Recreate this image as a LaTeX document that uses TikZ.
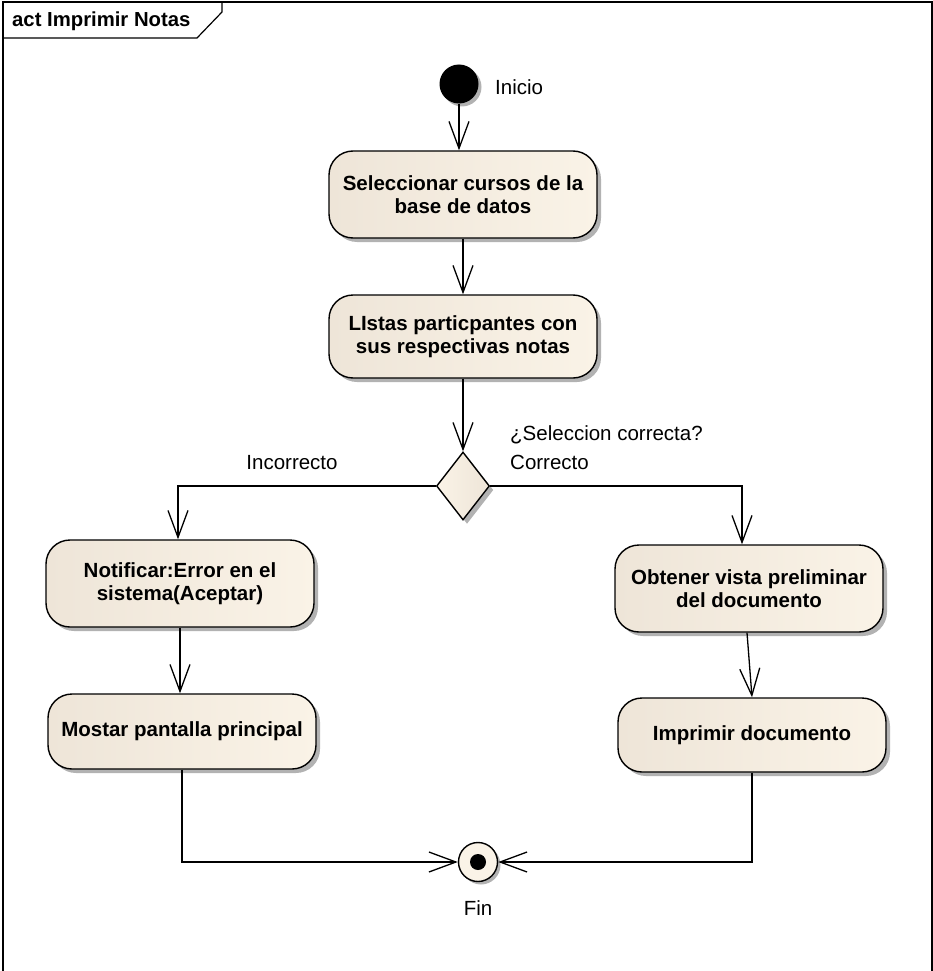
\documentclass[tikz,border=0pt]{standalone}
\usepackage{fontspec}
\setmainfont{Liberation Sans}
\usetikzlibrary{
	arrows.meta,
	shapes.geometric,
	shadows
}
\definecolor{BoxLeft}{RGB}{238,229,216}
\definecolor{BoxRight}{RGB}{250,243,231}
\definecolor{ShadowGray}{RGB}{178,178,178}

\tikzset{
	act/.style={draw, line width=1.4pt, rounded corners=24pt,
		left color=BoxLeft, right color=BoxRight,
		minimum width=268pt, inner sep=0pt, align=center,
		font=\fontsize{20.5}{23.5}\selectfont\bfseries,
		drop shadow={shadow xshift=4pt, shadow yshift=-4pt, fill=ShadowGray, opacity=1}},
	flow/.style={line width=1.3pt, -{Straight Barb[length=27pt, width=20pt, line width=1.3pt]}},
	lbl/.style={font=\fontsize{20.5}{24}\selectfont, inner sep=0pt}
}

\begin{document}
\begin{tikzpicture}[x=1pt, y=-1pt]
		\useasboundingbox (0,0) rectangle (933,971);
		% frame and tab
		\draw[line width=1.2pt] (3,980) -- (3,2) -- (932,2) -- (932,980);
		\draw[line width=1.2pt] (3,38) -- (197,38) -- (222,12) -- (222,2);
		\node[anchor=west, inner sep=0pt, font=\fontsize{20.3}{24}\selectfont\bfseries] (title) at (12,21) {act Imprimir Notas};
		% start and end
		\node[circle, fill=black, minimum size=39pt, inner sep=0pt,
			drop shadow={shadow xshift=3pt, shadow yshift=-3pt, fill=ShadowGray, opacity=1}] (start) at (459,84) {};
		\node[lbl, anchor=west] (inicio) at (495,87) {Inicio};
		\node[circle, draw, line width=1.4pt, fill=BoxRight, minimum size=39pt, inner sep=0pt,
			drop shadow={shadow xshift=3pt, shadow yshift=-3pt, fill=ShadowGray, opacity=1}] (fin) at (478,862) {};
		\fill (fin.center) circle (8pt);
		\node[lbl] (finlbl) at (478,908) {Fin};
		% actions
		\node[act, minimum height=87pt] (sel) at (463,194.5) {Seleccionar cursos de la\\base de datos};
		\node[act, minimum height=83pt] (list) at (463,336.5) {LIstas particpantes con\\sus respectivas notas};
		\node[diamond, draw, line width=1.4pt, left color=BoxRight, right color=BoxLeft,
			minimum width=53pt, minimum height=68pt, inner sep=0pt,
			drop shadow={shadow xshift=4pt, shadow yshift=-4pt, fill=ShadowGray, opacity=1}] (dec) at (463,486) {};
		\node[act, minimum height=87pt] (err) at (180,583.5) {Notificar:Error en el\\sistema(Aceptar)};
		\node[act, minimum height=87pt] (prev) at (749,588.5) {Obtener vista preliminar\\del documento};
		\node[act, minimum height=75pt] (main) at (182,731.5) {Mostar pantalla principal};
		\node[act, minimum height=74pt] (print) at (752,735) {Imprimir documento};
		% guard labels
		\node[lbl, anchor=west] (guard) at (510,435) {¿Seleccion correcta?};
		\node[lbl, anchor=west] (ok) at (510,462) {Correcto};
		\node[lbl] (bad) at (292,463) {Incorrecto};
		% flows
		\draw[flow] (start) -- (start |- sel.north);
		\draw[flow] (sel) -- (list);
		\draw[flow] (list) -- (dec.north);
		\draw[flow] (dec.west) -| ([xshift=-2pt]err.north);
		\draw[flow] (dec.east) -| ([xshift=-7pt]prev.north);
		\draw[flow] (err.south) -- (err.south |- main.north);
		\draw[flow] ([xshift=-2pt]prev.south) -- (print.north);
		\draw[flow] (main.south) |- (fin.west);
		\draw[flow] (print.south) |- (fin.east);
\end{tikzpicture}
\end{document}
